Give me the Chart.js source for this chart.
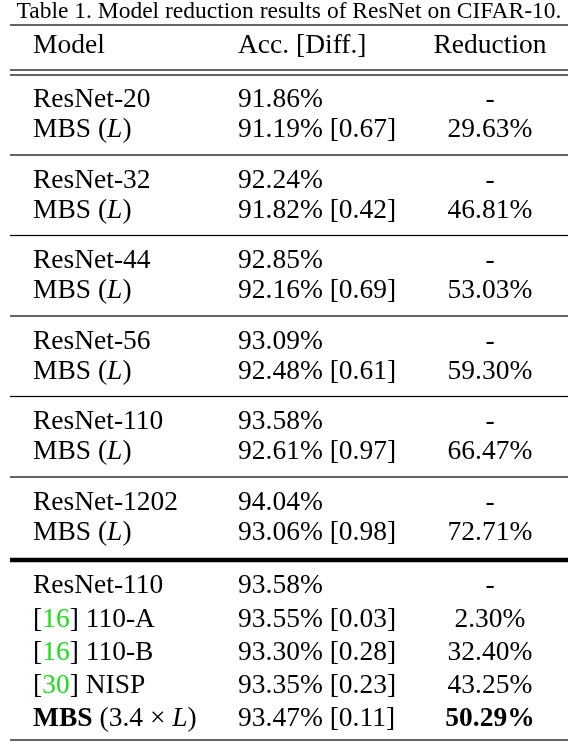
<!DOCTYPE html>
<html>
<head>
<meta charset="utf-8">
<script src="https://cdn.jsdelivr.net/npm/chart.js@4"></script>
<style>
  html, body { margin: 0; padding: 0; background: #fff; }
  canvas { display: block; }
</style>
</head>
<body>
<canvas id="tbl" width="578" height="746"></canvas>
<script>
// dados da tabela
const title = 'Table 1. Model reduction results of ResNet on CIFAR-10.';
const headers = ['Model', 'Acc. [Diff.]', 'Reduction'];

// blocos de cima: baseline + MBS (L)
const baseModels = ['ResNet-20', 'ResNet-32', 'ResNet-44', 'ResNet-56', 'ResNet-110', 'ResNet-1202'];
const baseAcc = [91.86, 92.24, 92.85, 93.09, 93.58, 94.04];
const mbsAcc = [91.19, 91.82, 92.16, 92.48, 92.61, 93.06];
const mbsDiff = [0.67, 0.42, 0.69, 0.61, 0.97, 0.98];
const mbsReduction = [29.63, 46.81, 53.03, 59.30, 66.47, 72.71];

// bloco de baixo: comparação
const cmpRefs = [null, '16', '16', '30', null];
const cmpNames = ['ResNet-110', '110-A', '110-B', 'NISP', 'MBS'];
const cmpAcc = [93.58, 93.55, 93.30, 93.35, 93.47];
const cmpDiff = [null, 0.03, 0.28, 0.23, 0.11];
const cmpReduction = [null, 2.30, 32.40, 43.25, 50.29];

const SERIF = '"Liberation Serif", "DejaVu Serif", serif';
const font = (sz, bold, ital) => (ital ? 'italic ' : '') + (bold ? 'bold ' : '') + sz + 'px ' + SERIF;

// desenha segmentos de texto com estilos diferentes
function drawSegs(ctx, segs, x, y, align) {
  let total = 0;
  segs.forEach(s => { ctx.font = s.f; total += ctx.measureText(s.t).width; });
  let cx = align === 'center' ? x - total / 2 : x;
  segs.forEach(s => {
    ctx.font = s.f;
    ctx.fillStyle = s.c || '#000';
    ctx.textAlign = 'left';
    ctx.fillText(s.t, cx, y);
    cx += ctx.measureText(s.t).width;
  });
}

const tablePlugin = {
  id: 'tablePlugin',
  afterDraw(chart) {
    const ctx = chart.ctx;
    const xs = chart.scales.x, ys = chart.scales.y;
    const X = v => xs.getPixelForValue(v), Y = v => ys.getPixelForValue(v);
    const colModel = X(33), colAcc = X(238), colRed = X(490);
    const N = font(27.5), L = font(27.5, false, true), B = font(27.5, true);
    ctx.save();
    ctx.textBaseline = 'middle';

    const rule = (y, w) => {
      ctx.fillStyle = '#000';
      ctx.fillRect(X(10), Y(y) - w / 2, X(568) - X(10), w);
    };

    drawSegs(ctx, [{ t: title, f: font(23.5) }], X(289), Y(12), 'center');
    rule(25, 1.2);
    drawSegs(ctx, [{ t: headers[0], f: N }], colModel, Y(46));
    drawSegs(ctx, [{ t: headers[1], f: N }], colAcc, Y(46));
    drawSegs(ctx, [{ t: headers[2], f: N }], colRed, Y(46), 'center');
    rule(70, 1.2);
    rule(75, 1.2);

    baseModels.forEach((m, k) => {
      const y1 = 100 + k * 80.5, y2 = y1 + 30;
      drawSegs(ctx, [{ t: m, f: N }], colModel, Y(y1));
      drawSegs(ctx, [{ t: baseAcc[k].toFixed(2) + '%', f: N }], colAcc, Y(y1));
      drawSegs(ctx, [{ t: '-', f: N }], colRed, Y(y1), 'center');
      drawSegs(ctx, [{ t: 'MBS (', f: N }, { t: 'L', f: L }, { t: ')', f: N }], colModel, Y(y2));
      drawSegs(ctx, [{ t: mbsAcc[k].toFixed(2) + '% [' + mbsDiff[k].toFixed(2) + ']', f: N }], colAcc, Y(y2));
      drawSegs(ctx, [{ t: mbsReduction[k].toFixed(2) + '%', f: N }], colRed, Y(y2), 'center');
      if (k < baseModels.length - 1) rule(155 + k * 80.5, 1.2);
    });

    rule(560, 4.5);

    cmpNames.forEach((m, i) => {
      const y = Y(586 + i * 33.3);
      const last = i === cmpNames.length - 1;
      let segs;
      if (cmpRefs[i]) {
        segs = [{ t: '[', f: N }, { t: cmpRefs[i], f: N, c: '#19e019' }, { t: '] ' + m, f: N }];
      } else if (last) {
        segs = [{ t: m, f: B }, { t: ' (3.4 \u00d7 ', f: N }, { t: 'L', f: L }, { t: ')', f: N }];
      } else {
        segs = [{ t: m, f: N }];
      }
      drawSegs(ctx, segs, colModel, y);
      const acc = cmpAcc[i].toFixed(2) + '%' + (cmpDiff[i] !== null ? ' [' + cmpDiff[i].toFixed(2) + ']' : '');
      drawSegs(ctx, [{ t: acc, f: N }], colAcc, y);
      const red = cmpReduction[i] !== null ? cmpReduction[i].toFixed(2) + '%' : '-';
      drawSegs(ctx, [{ t: red, f: last ? B : N }], colRed, y, 'center');
    });

    rule(740, 1.2);
    ctx.restore();
  }
};

new Chart(document.getElementById('tbl'), {
  type: 'scatter',
  data: { datasets: [] },
  options: {
    responsive: false,
    animation: false,
    layout: { padding: 0 },
    plugins: { legend: { display: false }, tooltip: { enabled: false } },
    scales: {
      x: { type: 'linear', min: 0, max: 578, display: false },
      y: { type: 'linear', min: 0, max: 746, reverse: true, display: false }
    }
  },
  plugins: [tablePlugin]
});
</script>
</body>
</html>
